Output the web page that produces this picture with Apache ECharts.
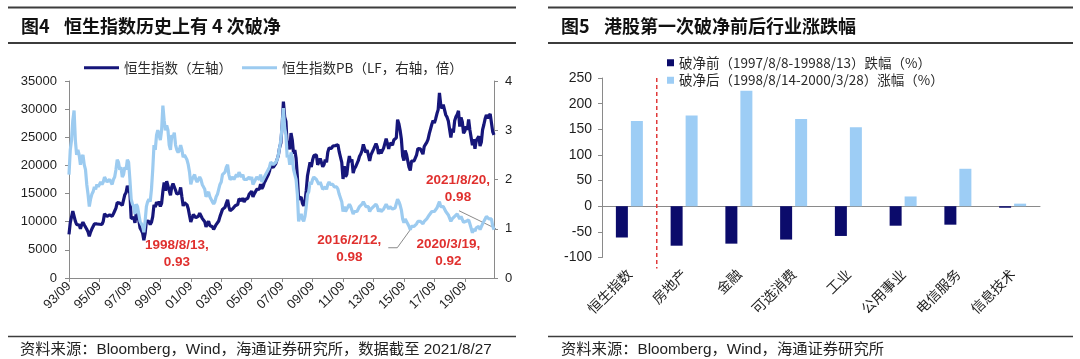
<!DOCTYPE html>
<html><head><meta charset="utf-8">
<script src="https://cdn.jsdelivr.net/npm/echarts@6/dist/echarts.min.js"></script>
<style>html,body{margin:0;padding:0;background:#fff}#c{width:1080px;height:359px}</style>
</head><body><div id="c"></div>
<script>
// ---------- Figure 4 data: monthly, 1993/09 .. 2021/08 ----------
const startYear = 1993, startMonth = 9, monthCount = 336;
const hsiIndex = [
  7750, 9850, 9700, 11900,                                                     // 1993 Sep-Dec
  11800, 10100, 9500, 9650, 9400, 8750, 9450, 9900, 9450, 9700, 8650, 8190,    // 1994
  7400, 8150, 8700, 8500, 9600, 9250, 9600, 9300, 9550, 9600, 9500, 10070,     // 1995
  11400, 11050, 10950, 11000, 11200, 10950, 10950, 11400, 11900, 12400, 13400, 13450, // 1996
  13300, 13500, 12900, 13000, 14800, 15200, 16400, 16600, 15050, 10600, 10500, 10720, // 1997
  9800, 11500, 11500, 10300, 8900, 8500, 8000, 6700, 7900, 10100, 10400, 10050,       // 1998
  9500, 9900, 10900, 13000, 12600, 13500, 13000, 13600, 12700, 13250, 15400, 16960,   // 1999
  15500, 17200, 17400, 15500, 14700, 16200, 16800, 17100, 15600, 14900, 14700, 15100, // 2000
  16100, 14400, 12800, 13400, 13200, 13000, 12300, 11100, 9950, 10100, 11300, 11400,  // 2001
  10700, 10500, 11000, 11500, 11300, 10600, 10300, 10000, 9100, 9400, 10100, 9320,    // 2002
  9250, 9100, 8630, 8720, 9490, 9580, 10130, 10900, 11230, 12190, 12320, 12580,       // 2003
  13290, 13900, 12680, 11950, 12200, 12290, 12240, 12850, 13120, 13050, 14060, 14230, // 2004
  13720, 14200, 13520, 13910, 13870, 14200, 14880, 14900, 15430, 14390, 14940, 14880, // 2005
  15750, 15920, 15800, 16660, 15860, 16270, 16970, 17390, 17540, 18320, 18960, 19960, // 2006
  20100, 19650, 19800, 20320, 20630, 21770, 23180, 23980, 27140, 31350, 28640, 27810, // 2007
  23450, 24330, 22850, 25760, 24530, 22100, 22730, 21260, 18020, 13970, 13890, 14390, // 2008
  13280, 12810, 13580, 15520, 18170, 18380, 20570, 19720, 20960, 21750, 21820, 21870, // 2009
  20120, 20610, 21240, 21110, 19770, 20130, 21030, 20540, 22360, 23100, 23010, 23040, // 2010
  23450, 23340, 23530, 23720, 23680, 22400, 22440, 20530, 17590, 19860, 17990, 18430, // 2011
  20390, 21680, 20560, 21090, 18630, 19440, 19800, 19480, 20840, 21640, 22030, 22660, // 2012
  23730, 23020, 22300, 22740, 22390, 20800, 21880, 21730, 22860, 23210, 23880, 23310, // 2013
  22040, 22840, 22150, 22130, 23080, 23190, 24760, 24740, 22930, 23990, 23990, 23610, // 2014
  24510, 24820, 24900, 28130, 27420, 26250, 24640, 21670, 20850, 22640, 22000, 21910, // 2015
  19680, 19110, 20780, 21070, 20820, 20790, 21890, 22980, 23300, 22930, 22790, 22000, // 2016
  23360, 23740, 24110, 24620, 25660, 25760, 27320, 27970, 27550, 28250, 29180, 29920, // 2017
  32890, 30840, 30090, 30810, 30470, 28960, 28580, 27890, 27790, 24980, 26510, 25850, // 2018
  27940, 28630, 29050, 29700, 26900, 28540, 27780, 25720, 26090, 26910, 26350, 28190, // 2019
  26310, 26130, 23600, 24640, 22960, 24430, 24600, 25180, 23460, 24110, 26340, 27230, // 2020
  28280, 28980, 28380, 28720, 29150, 28830, 25960, 25410                              // 2021 Jan-Aug
];
const pbRatio = [
  2.1, 2.6, 2.8, 3.2,
  3.4, 2.8, 2.5, 2.6, 2.5, 2.3, 2.45, 2.5, 2.3, 2.2, 1.9, 1.7,
  1.45, 1.6, 1.7, 1.75, 1.85, 1.8, 1.9, 1.85, 1.9, 1.95, 1.9, 1.95,
  2.05, 2.0, 1.95, 1.95, 2.0, 1.95, 1.9, 2.0, 2.05, 2.2, 2.4, 2.35,
  2.2, 2.25, 2.05, 2.1, 2.25, 2.2, 2.4, 2.35, 2.0, 1.6, 1.5, 1.45,
  1.3, 1.5, 1.45, 1.3, 1.15, 1.1, 1.05, 0.93, 1.15, 1.45, 1.55, 1.6,
  1.55, 1.8, 2.2, 2.7, 2.6, 2.9, 3.0, 2.9, 2.8, 3.0, 3.5, 3.2,
  3.0, 3.1, 3.0, 2.7, 2.6, 2.9, 2.85, 2.95, 2.7, 2.6, 2.55, 2.6,
  2.7, 2.6, 2.45, 2.5, 2.5, 2.4, 2.3, 2.15, 1.9, 2.0, 2.05, 2.1,
  2.0, 1.95, 2.0, 2.05, 2.0, 1.9, 1.85, 1.8, 1.65, 1.7, 1.75, 1.65,
  1.6, 1.55, 1.5, 1.55, 1.65, 1.7, 1.8, 1.9, 1.95, 2.1, 2.1, 2.15,
  2.25, 2.3, 2.1, 2.0, 2.0, 2.05, 2.0, 2.05, 2.1, 2.05, 2.15, 2.15,
  2.05, 2.1, 2.0, 2.0, 2.0, 2.0, 2.05, 2.0, 2.05, 1.9, 1.95, 1.95,
  2.05, 2.05, 2.0, 2.1, 1.95, 2.0, 2.05, 2.1, 2.1, 2.2, 2.25, 2.35,
  2.35, 2.3, 2.3, 2.35, 2.4, 2.5, 2.65, 2.8, 3.1, 3.45, 3.05, 2.9,
  2.45, 2.5, 2.3, 2.55, 2.45, 2.2, 2.2, 2.0, 1.7, 1.15, 1.25, 1.3,
  1.2, 1.15, 1.25, 1.45, 1.7, 1.75, 1.95, 1.9, 2.0, 2.05, 2.05, 2.0,
  1.95, 1.9, 1.95, 1.95, 1.8, 1.8, 1.85, 1.8, 1.9, 1.95, 1.9, 1.9,
  1.9, 1.85, 1.85, 1.85, 1.8, 1.7, 1.7, 1.55, 1.35, 1.45, 1.35, 1.35,
  1.45, 1.5, 1.45, 1.45, 1.3, 1.35, 1.35, 1.35, 1.4, 1.45, 1.45, 1.5,
  1.55, 1.5, 1.45, 1.45, 1.45, 1.35, 1.4, 1.4, 1.45, 1.45, 1.5, 1.45,
  1.35, 1.4, 1.35, 1.35, 1.4, 1.4, 1.5, 1.5, 1.4, 1.45, 1.42, 1.4,
  1.42, 1.42, 1.42, 1.6, 1.55, 1.48, 1.38, 1.2, 1.12, 1.2, 1.15, 1.12,
  1.05, 0.98, 1.05, 1.08, 1.05, 1.05, 1.1, 1.15, 1.18, 1.15, 1.15, 1.1,
  1.15, 1.18, 1.2, 1.22, 1.28, 1.28, 1.35, 1.38, 1.35, 1.38, 1.42, 1.45,
  1.55, 1.45, 1.42, 1.45, 1.42, 1.35, 1.32, 1.28, 1.28, 1.15, 1.2, 1.17,
  1.25, 1.28, 1.3, 1.32, 1.2, 1.25, 1.22, 1.13, 1.12, 1.15, 1.12, 1.18,
  1.1, 1.08, 0.92, 1.0, 0.95, 1.02, 1.02, 1.05, 0.98, 1.0, 1.1, 1.15,
  1.2, 1.25, 1.22, 1.2, 1.22, 1.2, 1.05, 0.98
];
const leftAxisTicks = [0, 5000, 10000, 15000, 20000, 25000, 30000, 35000];
const rightAxisTicks = [0, 1, 2, 3, 4];
const annDates  = ['98/08', '16/02', '20/03', '21/08'];
const annValues = [0.93, 0.98, 0.92, 0.98];
const annTexts  = ['1998/8/13,\n0.93', '2016/2/12,\n0.98', '2020/3/19,\n0.92', '2021/8/20,\n0.98'];

// ---------- Figure 5 data ----------
const sectors = ['恒生指数', '房地产', '金融', '可选消费', '工业', '公用事业', '电信服务', '信息技术'];
const beforeBreak = [-61, -77, -73, -65, -58, -38, -36, -3];
const afterBreak  = [166, 177, 225, 170, 154, 19, 73, 5];
const barTicks = [-100, -50, 0, 50, 100, 150, 200, 250];

// month categories
const months = [];
for (let i = 0; i < monthCount; i++) {
  const t = (startMonth - 1) + i;
  const y = startYear + Math.floor(t / 12), m = t % 12 + 1;
  months.push(String(y % 100).padStart(2, '0') + '/' + String(m).padStart(2, '0'));
}

const LAT = 'Liberation Sans, Arial, Noto Sans CJK SC, sans-serif';
const CJK = 'Noto Sans CJK SC, sans-serif';
const AX = '#8a8a8a', TXT = '#1e1e1e';
const DARK = '#16167a', LIGHT = '#9ccbf0';
const BAR_DARK = '#0b0b6b', BAR_LIGHT = '#9dcdf5';
const plain = function (v) { return String(v); };

const chart = echarts.init(document.getElementById('c'), null, {renderer: 'canvas'});

const option = {
  animation: false,
  backgroundColor: '#fff',
  legend: [
    { data: ['恒生指数（左轴）', '恒生指数PB（LF，右轴，倍）'], left: 79, top: 56,
      icon: 'rect', itemWidth: 35, itemHeight: 3, itemGap: 10,
      textStyle: { fontSize: 13.5, color: '#2a2a2a', fontFamily: CJK } },
    { data: ['破净前（1997/8/8-19988/13）跌幅（%）', '破净后（1998/8/14-2000/3/28）涨幅（%）'],
      left: 662, top: 51, orient: 'vertical', icon: 'rect', itemWidth: 7, itemHeight: 7, itemGap: 4,
      textStyle: { fontSize: 13.5, color: '#2a2a2a', fontFamily: CJK } }
  ],
  grid: [
    { left: 69, top: 81, width: 425, height: 197, outerBoundsMode: 'none', containLabel: false },
    { left: 602, top: 78, width: 438, height: 179.5, outerBoundsMode: 'none', containLabel: false }
  ],
  xAxis: [
    { type: 'category', gridIndex: 0, data: months, boundaryGap: false,
      axisLine: { lineStyle: { color: AX } },
      axisTick: { interval: 23, length: 4, lineStyle: { color: AX } },
      axisLabel: { interval: 23, rotate: 45, margin: 6, fontSize: 13, color: TXT, fontFamily: LAT } },
    { type: 'category', gridIndex: 1, data: sectors,
      axisLine: { onZero: true, lineStyle: { color: AX } },
      axisTick: { length: 4, lineStyle: { color: AX } },
      axisLabel: { rotate: 45, margin: 14, fontSize: 14, color: TXT, fontFamily: CJK } }
  ],
  yAxis: [
    { type: 'value', gridIndex: 0, min: 0, max: 35000, interval: 5000, position: 'left',
      splitLine: { show: false },
      axisLine: { show: true, lineStyle: { color: AX } },
      axisTick: { show: true, length: 4, lineStyle: { color: AX } },
      axisLabel: { fontSize: 13, color: TXT, fontFamily: LAT, margin: 12, formatter: plain } },
    { type: 'value', gridIndex: 0, min: 0, max: 4, interval: 1, position: 'right',
      splitLine: { show: false },
      axisLine: { show: true, lineStyle: { color: AX } },
      axisTick: { show: true, length: 4, lineStyle: { color: AX } },
      axisLabel: { fontSize: 13, color: TXT, fontFamily: LAT, margin: 11, formatter: plain } },
    { type: 'value', gridIndex: 1, min: -100, max: 250, interval: 50,
      splitLine: { show: false },
      axisLine: { show: true, lineStyle: { color: AX } },
      axisTick: { show: true, length: 4, lineStyle: { color: AX } },
      axisLabel: { fontSize: 14, color: TXT, fontFamily: LAT, margin: 10, formatter: plain } }
  ],
  series: [
    { name: '恒生指数（左轴）', type: 'line', xAxisIndex: 0, yAxisIndex: 0, data: hsiIndex,
      showSymbol: false, symbol: 'none', color: DARK, lineStyle: { width: 3.2, color: DARK }, z: 2 },
    { name: '恒生指数PB（LF，右轴，倍）', type: 'line', xAxisIndex: 0, yAxisIndex: 1, data: pbRatio,
      showSymbol: false, symbol: 'none', color: LIGHT, lineStyle: { width: 3.2, color: LIGHT }, z: 3 },
    { name: '破净前（1997/8/8-19988/13）跌幅（%）', type: 'bar', xAxisIndex: 1, yAxisIndex: 2,
      data: beforeBreak, barWidth: 12, barGap: '25%', color: BAR_DARK, itemStyle: { color: BAR_DARK } },
    { name: '破净后（1998/8/14-2000/3/28）涨幅（%）', type: 'bar', xAxisIndex: 1, yAxisIndex: 2,
      data: afterBreak, barWidth: 12, barGap: '25%', color: BAR_LIGHT, itemStyle: { color: BAR_LIGHT } }
  ]
};
chart.setOption(option);

// ---------- decorations (rules, titles, sources, annotations) ----------
const g = [];
function rule(x1, x2, y, w) {
  g.push({ type: 'line', shape: { x1: x1, y1: y, x2: x2, y2: y }, style: { stroke: '#3c3c3c', lineWidth: w }, silent: true });
}
function txt(x, y, s, font, color, align) {
  g.push({ type: 'text', x: x, y: y, style: { text: s, font: font, fill: color, align: align || 'left', verticalAlign: 'middle' }, silent: true });
}
rule(8, 516, 7.5, 2); rule(8, 516, 43, 2); rule(8, 516, 336.5, 1.6);
rule(548, 1073, 7.5, 2); rule(548, 1073, 43, 2); rule(548, 1073, 336.5, 1.6);
txt(21, 26, '图4', 'bold 18px ' + CJK, '#111');
txt(64, 26, '恒生指数历史上有 4 次破净', 'bold 18px ' + CJK, '#111');
txt(561, 26, '图5', 'bold 18px ' + CJK, '#111');
txt(604, 26, '港股第一次破净前后行业涨跌幅', 'bold 18px ' + CJK, '#111');
txt(20, 350, '资料来源：Bloomberg，Wind，海通证券研究所，数据截至 2021/8/27', '15.3px ' + LAT, '#222');
txt(561, 350, '资料来源：Bloomberg，Wind，海通证券研究所', '15.3px ' + LAT, '#222');

// annotations anchored on the PB series via the chart's own scales
const annOffsets = [[33, 22], [-61, 19], [-24, 20], [-36, -41]];
const RED = '#e0302e';
annDates.forEach(function (d, i) {
  const p = chart.convertToPixel({ xAxisIndex: 0, yAxisIndex: 1 }, [d, annValues[i]]);
  const o = annOffsets[i];
  g.push({ type: 'text', x: p[0] + o[0], y: p[1] + o[1], silent: true,
    style: { text: annTexts[i], font: 'bold 13.5px ' + LAT, fill: RED, align: 'center', verticalAlign: 'middle', lineHeight: 17 } });
  if (i === 1) {
    g.push({ type: 'polyline', silent: true, shape: { points: [[p[0] - 22, p[1] + 18], [p[0] - 13, p[1] + 18], [p[0], p[1]]] },
      style: { stroke: '#8a8a8a', lineWidth: 1, fill: null } });
  }
  if (i === 3) {
    g.push({ type: 'line', silent: true, shape: { x1: p[0] - 35, y1: p[1] - 19, x2: p[0] + 2, y2: p[1] - 1 },
      style: { stroke: '#8a8a8a', lineWidth: 1 } });
  }
});

// red dashed separator between first and second sector
const c0 = chart.convertToPixel({ xAxisIndex: 1 }, sectors[0]);
const c1 = chart.convertToPixel({ xAxisIndex: 1 }, sectors[1]);
const yTop = chart.convertToPixel({ yAxisIndex: 2 }, 250);
const yBot = chart.convertToPixel({ yAxisIndex: 2 }, -100);
g.push({ type: 'line', silent: true, z: 10, shape: { x1: (c0 + c1) / 2, y1: yTop, x2: (c0 + c1) / 2, y2: yBot + 11 },
  style: { stroke: '#e03a3a', lineWidth: 1.5, lineDash: [4, 3] } });

chart.setOption({ graphic: g });
</script>
</body></html>
